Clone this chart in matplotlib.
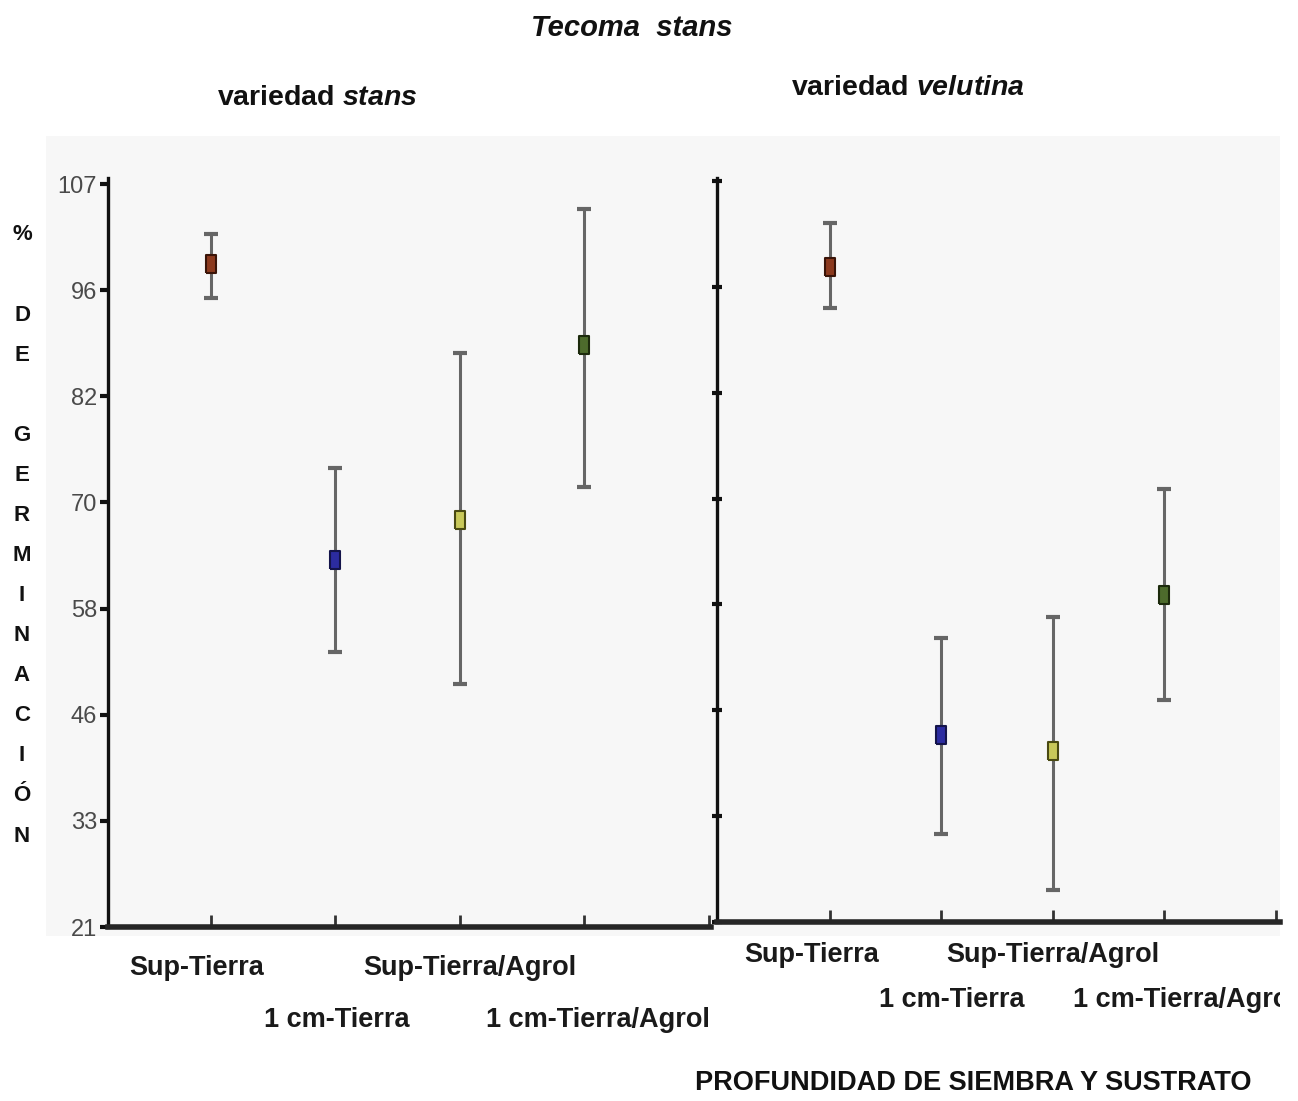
import numpy as np
import matplotlib.pyplot as plt
from matplotlib.patches import Rectangle
from matplotlib.transforms import Bbox

plt.rcParams['font.family'] = ['Liberation Sans', 'DejaVu Sans']
plt.rcParams['mathtext.fontset'] = 'custom'
plt.rcParams['mathtext.rm'] = 'Liberation Sans:bold'
plt.rcParams['mathtext.it'] = 'Liberation Sans:italic:bold'

# treatments (sowing depth / substrate)
treatments = ['Sup-Tierra', '1 cm-Tierra', 'Sup-Tierra/Agrol', '1 cm-Tierra/Agrol']

# % germination, mean and interval limits, variedad stans
stans_mean = [97.7, 63.5, 68.1, 88.4]
stans_low = [93.8, 52.8, 49.1, 71.9]
stans_high = [101.2, 74.1, 87.4, 104.1]

# % germination, mean and interval limits, variedad velutina
velutina_mean = [97.0, 42.7, 40.8, 59.0]
velutina_low = [92.3, 31.2, 24.7, 46.8]
velutina_high = [102.1, 54.0, 56.4, 71.2]

ytick_vals = np.linspace(21, 107, 8)
ytick_labels = ['21', '33', '46', '58', '70', '82', '96', '107']

face_colors = ['#8c3a1e', '#2c2ca0', '#c9c95a', '#4d6b2c']
edge_colors = ['#3a1408', '#14144a', '#4a4a12', '#1c2a0c']

W, H = 1298, 1101
fig = plt.figure(figsize=(W / 100, H / 100), dpi=100)


def fx(px):
    return px / W


def fy(py):
    return 1 - py / H


# light grey panel behind both plots
fig.patches.append(Rectangle((fx(46), fy(936)), fx(1280) - fx(46), (936 - 136) / H,
                             transform=fig.transFigure, facecolor='#f7f7f7',
                             edgecolor='none', zorder=-1))

ax1 = fig.add_axes([fx(108), fy(927), fx(711) - fx(108), (927 - 178) / H])
ax2 = fig.add_axes([fx(717), fy(922), fx(1280) - fx(717), (922 - 178) / H])

rect_marker = [(-0.6, -1), (0.6, -1), (0.6, 1), (-0.6, 1), (-0.6, -1)]


def draw_panel(ax, mean, low, high):
    x = np.arange(1, len(mean) + 1)
    for i in range(len(mean)):
        err = [[mean[i] - low[i]], [high[i] - mean[i]]]
        _, caps, _ = ax.errorbar(x[i], mean[i], yerr=err, fmt='none', ecolor='#666666',
                                 elinewidth=2.2, capsize=5, capthick=3, zorder=2)
        for c in caps:
            c.set_color('#333333')
        ax.plot(x[i], mean[i], marker=rect_marker, markersize=13, linestyle='none',
                markerfacecolor=face_colors[i], markeredgecolor=edge_colors[i],
                markeredgewidth=1.5, zorder=3)
    ax.set_facecolor('none')
    ax.spines['top'].set_visible(False)
    ax.spines['right'].set_visible(False)
    ax.spines['left'].set_linewidth(2.4)
    ax.spines['left'].set_color('#111111')
    ax.spines['bottom'].set_linewidth(4)
    ax.spines['bottom'].set_color('#262626')
    ax.set_xticks([1, 2, 3, 4, 5], [])
    ax.tick_params(axis='x', direction='in', length=9, width=2, color='#333333')


draw_panel(ax1, stans_mean, stans_low, stans_high)
draw_panel(ax2, velutina_mean, velutina_low, velutina_high)

ax1.set_xlim(0.173, 5.016)
ax1.set_ylim(21, 107.7)
ax1.set_yticks(ytick_vals, ytick_labels)
ax1.tick_params(axis='y', direction='out', length=6, width=3, color='#111111',
                labelsize=17, labelcolor='#4a4a4a', pad=2)

ax2.set_xlim(-0.013, 5.036)
ax2.set_ylim(21, 107.35)
ax2.set_yticks(ytick_vals, [])
ax2.tick_params(axis='y', direction='inout', length=7, width=3, color='#111111')

# staggered treatment labels under each panel
label_rows = {ax1: (968, 1020), ax2: (955, 1000)}
label_shift = {ax1: (-14, 1, 10, 13), ax2: (-18, 10, 0, 20)}
clip = Bbox([[717, 0], [1280, H]])
for ax in (ax1, ax2):
    for i, lab in enumerate(treatments):
        row = label_rows[ax][i % 2]
        t = ax.annotate(lab, xy=(i + 1, fy(row)), xycoords=('data', 'figure fraction'),
                        xytext=(label_shift[ax][i], 0), textcoords='offset pixels',
                        ha='center', va='center', fontsize=19.5, fontweight='bold',
                        color='#1a1a1a', annotation_clip=False)
        if ax is ax2:
            t.set_clip_box(clip)
            t.set_clip_on(True)

fig.text(fx(632), fy(28), 'Tecoma  stans', style='italic', fontweight='bold',
         ha='center', va='center', fontsize=21, color='#111111')
fig.text(fx(317), fy(98), r'variedad $\mathit{stans}$', fontweight='bold',
         ha='center', va='center', fontsize=20.5, color='#111111')
fig.text(fx(908), fy(88), r'variedad $\mathit{velutina}$', fontweight='bold',
         ha='center', va='center', fontsize=20.5, color='#111111')
fig.text(fx(973), fy(1083), 'PROFUNDIDAD DE SIEMBRA Y SUSTRATO', fontweight='bold',
         ha='center', va='center', fontsize=19.5, color='#111111')

# vertical y-axis title, one letter per line
for i, ch in enumerate('% DE GERMINACIÓN'):
    if ch != ' ':
        fig.text(fx(22), fy(235 + 40.07 * i), ch, ha='center', va='center',
                 fontsize=16, fontweight='bold', color='#111111')

fig.savefig('out.png', dpi=100)
